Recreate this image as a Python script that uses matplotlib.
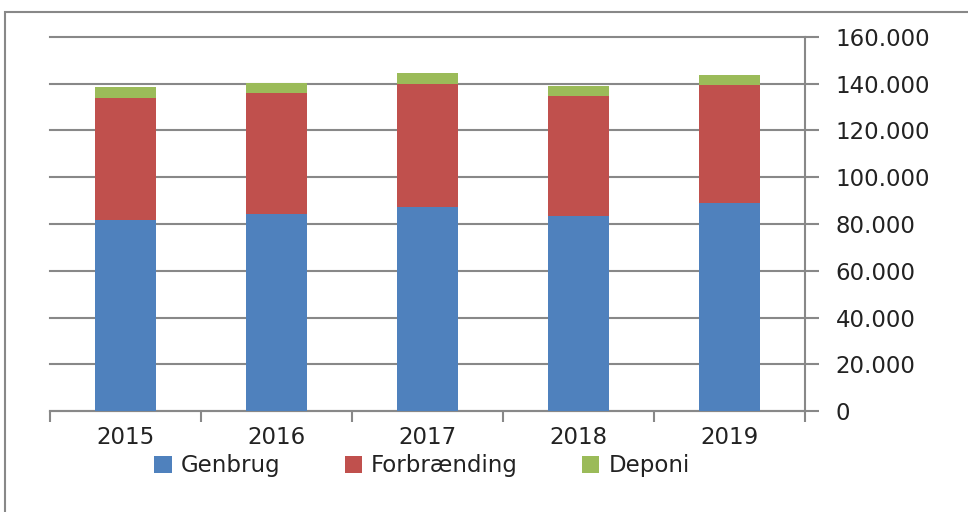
import matplotlib
matplotlib.use("Agg")
import matplotlib.pyplot as plt
from matplotlib.patches import Rectangle
from matplotlib.ticker import FuncFormatter, FixedLocator

years = ['2015', '2016', '2017', '2018', '2019']
genbrug = [81600, 84100, 87200, 83600, 88900]
forbraending = [52400, 51800, 52800, 51000, 50500]
deponi = [4600, 4400, 4400, 4300, 4400]
series_names = ['Genbrug', 'Forbrænding', 'Deponi']
colors = ['#4F81BD', '#C0504D', '#9BBB59']


def thousands(v, pos):
    return f'{int(v):,}'.replace(',', '.')


def main():
    plt.rcParams['font.family'] = ['DejaVu Sans']
    fig = plt.figure(figsize=(9.68, 5.12), dpi=100)
    ax = fig.add_axes([0.0517, 0.197, 0.780, 0.731])

    x = list(range(len(years)))
    bottom2 = [a + b for a, b in zip(genbrug, forbraending)]
    b1 = ax.bar(x, genbrug, width=0.4, color=colors[0], zorder=3)
    b2 = ax.bar(x, forbraending, width=0.4, bottom=genbrug, color=colors[1], zorder=3)
    b3 = ax.bar(x, deponi, width=0.4, bottom=bottom2, color=colors[2], zorder=3)

    ax.set_xlim(-0.5, len(years) - 0.5)
    ax.set_ylim(0, 160000)

    # y axis on the right, like the excel chart
    ax.yaxis.tick_right()
    ax.set_yticks(range(0, 160001, 20000))
    ax.yaxis.set_major_formatter(FuncFormatter(thousands))
    ax.tick_params(axis='y', length=10, width=1.5, color='#888888',
                   labelsize=16.5, labelcolor='#222222', pad=12)
    ax.grid(axis='y', color='#888888', linewidth=1.5, zorder=0)
    for gl in ax.get_ygridlines():
        gl.set_clip_on(False)

    ax.set_xticks(x)
    ax.set_xticklabels(years)
    ax.xaxis.set_minor_locator(FixedLocator([i - 0.5 for i in range(len(years) + 1)]))
    ax.tick_params(axis='x', which='major', length=0, labelsize=16.5,
                   labelcolor='#222222', pad=11)
    ax.tick_params(axis='x', which='minor', length=8, width=1.5, color='#888888')

    for s in ['top', 'left']:
        ax.spines[s].set_visible(False)
    for s in ['right', 'bottom']:
        ax.spines[s].set_color('#888888')
        ax.spines[s].set_linewidth(1.5)

    fig.legend([b1, b2, b3], series_names, loc='center', ncol=3,
               bbox_to_anchor=(0.436, 0.090), frameon=False, fontsize=16.5,
               handlelength=0.75, handleheight=0.75, handletextpad=0.4,
               columnspacing=2.8, labelcolor='#222222', borderpad=0)

    # outer chart frame (cut off at right and bottom)
    fig.patches.append(Rectangle((0.005, -0.1), 1.2, 1.0766, transform=fig.transFigure,
                                 fill=False, edgecolor='#888888', linewidth=1.5))

    fig.savefig('out.png', dpi=100)


if __name__ == "__main__":
    main()
